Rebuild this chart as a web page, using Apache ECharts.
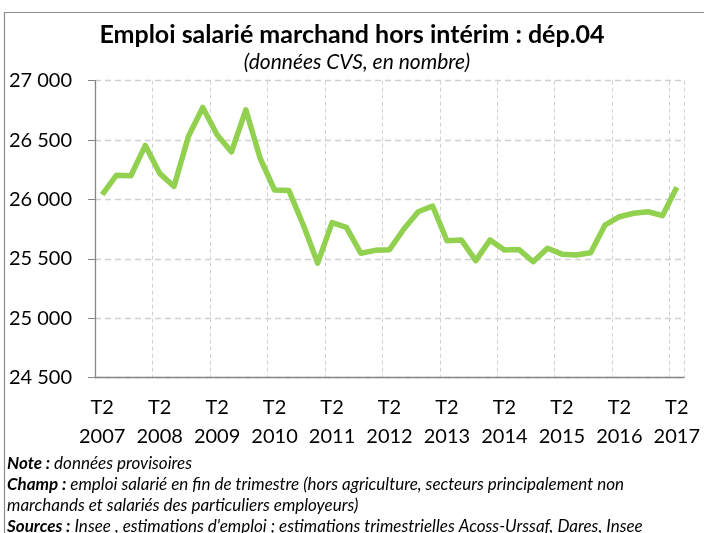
<!DOCTYPE html>
<html>
<head>
<meta charset="utf-8">
<script src="https://cdn.jsdelivr.net/npm/echarts@6/dist/echarts.min.js"></script>
<style>
  html, body { margin: 0; padding: 0; background: #fff; }
  #chart { width: 704px; height: 533px; }
</style>
</head>
<body>
<div id="chart"></div>
<script>
// trimestres T2 2007 -> T2 2017
const years = [2007, 2008, 2009, 2010, 2011, 2012, 2013, 2014, 2015, 2016, 2017];
const quarters = ["T2", "T3", "T4", "T1"];

// emploi salarié (CVS)
const emploi = [
  26040, 26205, 26200, 26455, 26220, 26110, 26530, 26775, 26545, 26400,
  26755, 26345, 26080, 26075, 25785, 25465, 25805, 25765, 25548, 25572,
  25578, 25752, 25897, 25945, 25653, 25660, 25485, 25660, 25575, 25580,
  25476, 25590, 25540, 25533, 25552, 25785, 25855, 25884, 25897, 25864,
  26103
];

const yTicks = { min: 24500, max: 27000, step: 500 };

// notes sous le graphique
const notes = [
  "{b|Note :} données provisoires",
  "{b|Champ :} emploi salarié en fin de trimestre (hors agriculture, secteurs principalement non",
  "marchands et salariés des particuliers employeurs)",
  "{b|Sources :} Insee , estimations d'emploi ; estimations trimestrielles Acoss-Urssaf, Dares, Insee"
];

// libellés des catégories : "T2\n2007", ...
const categories = [];
for (let i = 0; i < emploi.length; i++) {
  const y = years[0] + Math.floor((i + 1) / 4);
  categories.push(quarters[i % 4] + "\n" + y);
}

const FONT = "Lato";
const chart = echarts.init(document.getElementById("chart"));

const noteText = notes.map((t, i) => ({
  type: "text", x: 7, y: 464 + i * 20.7,
  style: {
    text: t, fill: "#000",
    font: "italic 17px " + FONT, verticalAlign: "middle",
    rich: { b: { fontWeight: "bold", fontStyle: "italic", fontSize: 17, fontFamily: FONT } }
  }
}));

chart.setOption({
  animation: false,
  grid: { left: 95, right: 20, top: 80.7, bottom: 155.3 },
  xAxis: {
    type: "category",
    data: categories,
    boundaryGap: true,
    axisLine: { lineStyle: { color: "#868686", width: 1.3 } },
    axisTick: { interval: 3, length: 6, lineStyle: { color: "#868686" } },
    axisLabel: {
      interval: 3, margin: 15, color: "#000",
      fontFamily: FONT, fontSize: 20, lineHeight: 29
    },
    splitLine: {
      show: true, interval: 3,
      lineStyle: { color: "#d0d0d0", type: [4, 3], width: 1 }
    }
  },
  yAxis: {
    type: "value",
    min: yTicks.min, max: yTicks.max, interval: yTicks.step,
    axisLine: { show: true, lineStyle: { color: "#868686", width: 1.3 } },
    axisTick: { show: true, length: 7, lineStyle: { color: "#868686" } },
    axisLabel: {
      margin: 23, color: "#000", fontFamily: FONT, fontSize: 20,
      formatter: v => String(v).replace(/\B(?=(\d{3})+(?!\d))/g, " ")
    },
    splitLine: { lineStyle: { color: "#d0d0d0", type: [6, 4], width: 1.3 } }
  },
  series: [{
    type: "line",
    data: emploi,
    symbol: "none",
    lineStyle: { color: "#92d050", width: 5.5, join: "round" },
    itemStyle: { color: "#92d050" }
  }],
  graphic: [
    {
      type: "rect", silent: true,
      shape: { x: 4.5, y: 12.5, width: 720, height: 540 },
      style: { fill: "none", stroke: "#8c8c8c", lineWidth: 1.2 }
    },
    {
      type: "text", x: 352, y: 35,
      style: {
        text: "Emploi salarié marchand hors intérim : dép.04",
        font: "bold 25px " + FONT, fill: "#000",
        align: "center", verticalAlign: "middle"
      }
    },
    {
      type: "text", x: 357, y: 62,
      style: {
        text: "(données CVS, en nombre)",
        font: "italic 21px " + FONT, fill: "#000",
        align: "center", verticalAlign: "middle"
      }
    }
  ].concat(noteText)
});
</script>
</body>
</html>
